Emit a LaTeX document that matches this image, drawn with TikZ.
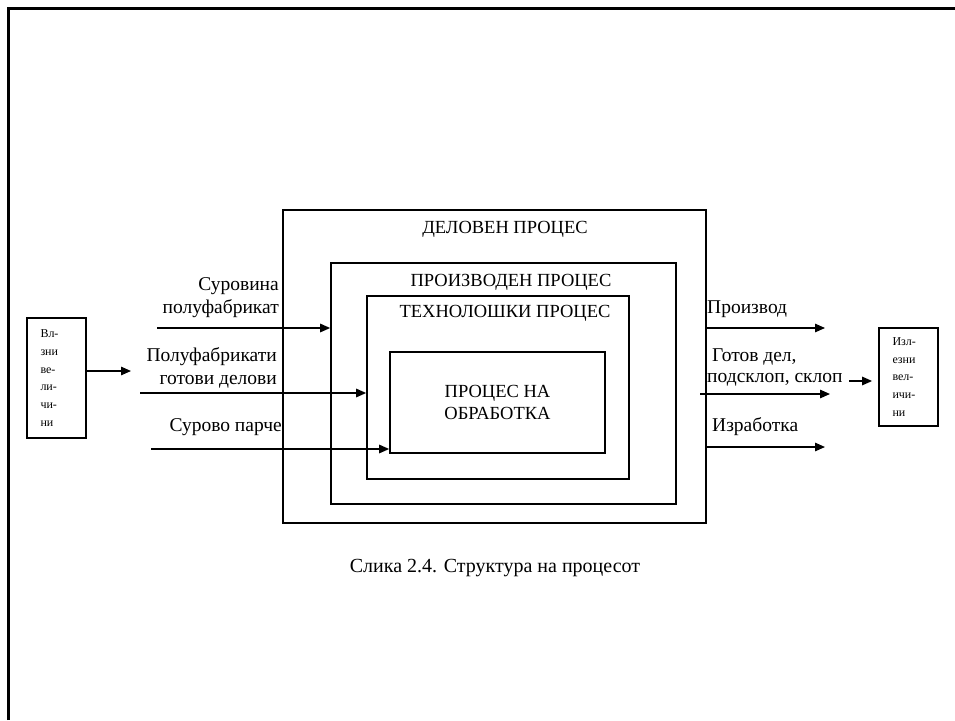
\documentclass[tikz,border=0pt]{standalone}
\usepackage{fontspec}
\setmainfont{Liberation Serif}
\usetikzlibrary{arrows.meta,positioning}

\begin{document}
\begin{tikzpicture}[
    x=1pt, y=-1pt,
    procbox/.style={rectangle, draw, line width=1.7pt, inner sep=0pt, align=center},
    boxtitle/.style={font=\fontsize{18.5}{22}\selectfont, inner sep=0pt},
    sidebox/.style={rectangle, draw, line width=1.8pt, text width=32pt, align=left, inner sep=0pt, font=\fontsize{12}{17.8}\selectfont},
    lbl/.style={font=\fontsize{19.5}{23}\selectfont, inner sep=0pt},
    arrow/.style={-{Triangle[length=10pt,width=8.5pt]}, line width=1.4pt}
]
\useasboundingbox (0,0) rectangle (955,720);
\draw[line width=2.8pt] (8.5,720) -- (8.5,8.5) -- (955,8.5);

\node[procbox, minimum width=423pt, minimum height=313pt] (delov) at (494.5,366.5) {};
\node[procbox, minimum width=345pt, minimum height=241pt] (proizv) at (503.5,383.5) {};
\node[procbox, minimum width=262pt, minimum height=183pt] (tehno) at (498,387.5) {};
\node[procbox, minimum width=215pt, minimum height=101pt, font=\fontsize{18.5}{22}\selectfont] (obrab) at (497.5,402.5) {ПРОЦЕС НА\\ОБРАБОТКА};

\node[boxtitle] (delovtxt) at (505,229) {ДЕЛОВЕН ПРОЦЕС};
\node[boxtitle] (proizvtxt) at (511,282) {ПРОИЗВОДЕН ПРОЦЕС};
\node[boxtitle] (tehnotxt) at (505,313) {ТЕХНОЛОШКИ ПРОЦЕС};

\node[sidebox, minimum width=59pt, minimum height=120pt] (inbox) at (56.5,378) {Вл-\\зни\\ве-\\ли-\\чи-\\ни};
\node[sidebox, minimum width=59pt, minimum height=98pt] (outbox) at (908.5,377) {Изл-\\езни\\вел-\\ичи-\\ни};

\node[lbl, align=right, anchor=east] (surov) at (279,297.5) {Суровина\\полуфабрикат};
\node[lbl, align=right, anchor=east] (polu) at (277,367.5) {Полуфабрикати\\готови делови};
\node[lbl, anchor=east] (parche) at (282,427) {Сурово парче};

\node[lbl, anchor=west] (proizvod) at (707,309) {Производ};
\node[lbl, anchor=west] (gotov) at (712,357) {Готов дел,};
\node[lbl, anchor=west] (sklop) at (707,380) {подсклоп, склоп};
\node[lbl, anchor=west] (izrab) at (712,427) {Изработка};

\node[font=\fontsize{20}{24}\selectfont, inner sep=0pt] (caption) at (495,568) {Слика 2.4. Структура на процесот};

\coordinate (inend) at (131,371);
\coordinate (in1) at (157,328);
\coordinate (in2) at (140,393);
\coordinate (in3) at (151,449);
\coordinate (out1) at (825,328);
\coordinate (out2start) at (700,394);
\coordinate (out2) at (830,394);
\coordinate (out3) at (825,447);
\coordinate (smallarr) at (849,381);

\draw[arrow] (inend -| inbox.east) -- (inend);
\draw[arrow] (in1) -- (in1 -| proizv.west);
\draw[arrow] (in2) -- (in2 -| tehno.west);
\draw[arrow] (in3) -- (in3 -| obrab.west);
\draw[arrow] (out1 -| delov.east) -- (out1);
\draw[arrow] (out2start) -- (out2);
\draw[arrow] (out3 -| delov.east) -- (out3);
\draw[arrow, shorten >=6pt] (smallarr) -- (smallarr -| outbox.west);

\end{tikzpicture}
\end{document}
